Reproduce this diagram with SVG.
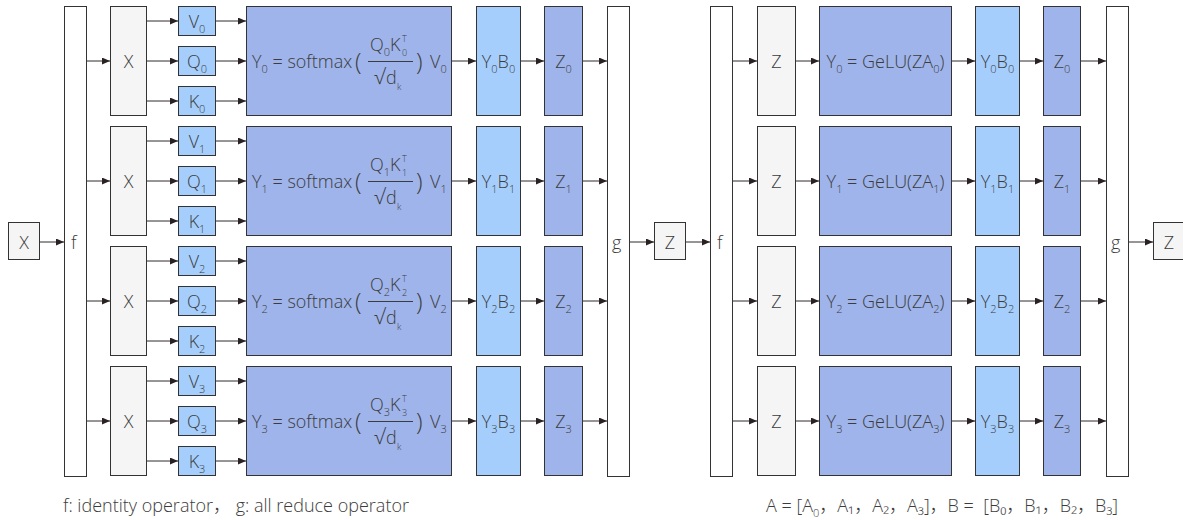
<svg xmlns="http://www.w3.org/2000/svg" width="1183" height="520" viewBox="0 0 1183 520">
  <defs>
    <marker id="arr" markerUnits="userSpaceOnUse" markerWidth="8" markerHeight="8" refX="8" refY="3.5" orient="auto">
      <path d="M0,0 L8,3.5 L0,7 z" fill="#2a2222"/>
    </marker>
    <style>
      .box { stroke: #333; stroke-width: 1; }
      .gray { fill: #f5f5f5; }
      .bar { fill: #fff; }
      .lblue { fill: #a6cefc; }
      .violet { fill: #9fb4ea; }
      text { font-family: "Open Sans", "Noto Sans", "Noto Sans CJK SC", sans-serif; font-weight: 300; font-size: 18px; fill: #3c3c3c; }
      .c { text-anchor: middle; }
      .sub { font-size: 11px; }
      .sup { font-size: 9px; }
      .paren { font-size: 24px; }
      .rad { font-size: 21px; }
      .cap { font-size: 18px; }
      .frac { stroke: #3c3c3c; stroke-width: 1; }
      #connectors line { stroke: #2e2a2a; stroke-width: 1; marker-end: url(#arr); }
    </style>
  </defs>

  <rect width="1183" height="520" fill="#fff"/>

  <!-- connectors -->
  <g id="connectors">
    <line x1="40" y1="242" x2="64" y2="242"/>
    <!-- f to X -->
    <line x1="86" y1="61" x2="110" y2="61"/>
    <line x1="86" y1="181" x2="110" y2="181"/>
    <line x1="86" y1="301" x2="110" y2="301"/>
    <line x1="86" y1="421" x2="110" y2="421"/>
    <!-- X to V/Q/K -->
    <line x1="147" y1="21" x2="178" y2="21"/>
    <line x1="147" y1="61" x2="178" y2="61"/>
    <line x1="147" y1="101" x2="178" y2="101"/>
    <line x1="147" y1="141" x2="178" y2="141"/>
    <line x1="147" y1="181" x2="178" y2="181"/>
    <line x1="147" y1="221" x2="178" y2="221"/>
    <line x1="147" y1="261" x2="178" y2="261"/>
    <line x1="147" y1="301" x2="178" y2="301"/>
    <line x1="147" y1="341" x2="178" y2="341"/>
    <line x1="147" y1="381" x2="178" y2="381"/>
    <line x1="147" y1="421" x2="178" y2="421"/>
    <line x1="147" y1="461" x2="178" y2="461"/>
    <!-- V/Q/K to attention -->
    <line x1="216" y1="21" x2="246" y2="21"/>
    <line x1="216" y1="61" x2="246" y2="61"/>
    <line x1="216" y1="101" x2="246" y2="101"/>
    <line x1="216" y1="141" x2="246" y2="141"/>
    <line x1="216" y1="181" x2="246" y2="181"/>
    <line x1="216" y1="221" x2="246" y2="221"/>
    <line x1="216" y1="261" x2="246" y2="261"/>
    <line x1="216" y1="301" x2="246" y2="301"/>
    <line x1="216" y1="341" x2="246" y2="341"/>
    <line x1="216" y1="381" x2="246" y2="381"/>
    <line x1="216" y1="421" x2="246" y2="421"/>
    <line x1="216" y1="461" x2="246" y2="461"/>
    <!-- attention to YB to Z to g -->
    <line x1="452" y1="61" x2="476" y2="61"/>
    <line x1="452" y1="181" x2="476" y2="181"/>
    <line x1="452" y1="301" x2="476" y2="301"/>
    <line x1="452" y1="421" x2="476" y2="421"/>
    <line x1="521" y1="61" x2="544" y2="61"/>
    <line x1="521" y1="181" x2="544" y2="181"/>
    <line x1="521" y1="301" x2="544" y2="301"/>
    <line x1="521" y1="421" x2="544" y2="421"/>
    <line x1="583" y1="61" x2="607" y2="61"/>
    <line x1="583" y1="181" x2="607" y2="181"/>
    <line x1="583" y1="301" x2="607" y2="301"/>
    <line x1="583" y1="421" x2="607" y2="421"/>
    <!-- g to Z to f -->
    <line x1="629" y1="242" x2="654" y2="242"/>
    <line x1="686" y1="242" x2="710" y2="242"/>
    <!-- MLP half -->
    <line x1="733" y1="61" x2="757" y2="61"/>
    <line x1="733" y1="181" x2="757" y2="181"/>
    <line x1="733" y1="301" x2="757" y2="301"/>
    <line x1="733" y1="421" x2="757" y2="421"/>
    <line x1="796" y1="61" x2="819" y2="61"/>
    <line x1="796" y1="181" x2="819" y2="181"/>
    <line x1="796" y1="301" x2="819" y2="301"/>
    <line x1="796" y1="421" x2="819" y2="421"/>
    <line x1="952" y1="61" x2="975" y2="61"/>
    <line x1="952" y1="181" x2="975" y2="181"/>
    <line x1="952" y1="301" x2="975" y2="301"/>
    <line x1="952" y1="421" x2="975" y2="421"/>
    <line x1="1020" y1="61" x2="1043" y2="61"/>
    <line x1="1020" y1="181" x2="1043" y2="181"/>
    <line x1="1020" y1="301" x2="1043" y2="301"/>
    <line x1="1020" y1="421" x2="1043" y2="421"/>
    <line x1="1081" y1="61" x2="1106" y2="61"/>
    <line x1="1081" y1="181" x2="1106" y2="181"/>
    <line x1="1081" y1="301" x2="1106" y2="301"/>
    <line x1="1081" y1="421" x2="1106" y2="421"/>
    <line x1="1128" y1="242" x2="1153" y2="242"/>
  </g>

  <!-- input -->
  <g id="input-x">
    <rect class="box gray" x="8.5" y="222.5" width="31" height="37"/>
    <text class="c" x="24" y="248.5">X</text>
  </g>

  <!-- identity / all-reduce bars -->
  <g id="f1"><rect class="box bar" x="64.5" y="6.5" width="22" height="470"/><text x="71" y="248.5">f</text></g>
  <g id="g1"><rect class="box bar" x="607.5" y="6.5" width="22" height="470"/><text x="612" y="248.5">g</text></g>
  <g id="z-mid">
    <rect class="box gray" x="654.5" y="222.5" width="31" height="37"/>
    <text class="c" x="670" y="248.5">Z</text>
  </g>
  <g id="f2"><rect class="box bar" x="710.5" y="6.5" width="22" height="470"/><text x="717" y="248.5">f</text></g>
  <g id="g2"><rect class="box bar" x="1106.5" y="6.5" width="22" height="470"/><text x="1111" y="248.5">g</text></g>
  <g id="z-out">
    <rect class="box gray" x="1153.5" y="222.5" width="33" height="37"/>
    <text class="c" x="1169" y="248.5">Z</text>
  </g>

  <!-- attention heads -->
  <g id="x0"><rect class="box gray" x="110.5" y="6.5" width="36" height="109"/><text class="c" x="128.5" y="67.5">X</text></g>
  <g id="x1"><rect class="box gray" x="110.5" y="126.5" width="36" height="109"/><text class="c" x="128.5" y="187.5">X</text></g>
  <g id="x2"><rect class="box gray" x="110.5" y="246.5" width="36" height="109"/><text class="c" x="128.5" y="307.5">X</text></g>
  <g id="x3"><rect class="box gray" x="110.5" y="366.5" width="36" height="109"/><text class="c" x="128.5" y="427.5">X</text></g>

  <g id="v0"><rect class="box lblue" x="178.5" y="6.5" width="37" height="29"/><text class="c" x="197" y="27.5">V<tspan class="sub" dy="5">0</tspan></text></g>
  <g id="q0"><rect class="box lblue" x="178.5" y="46.5" width="37" height="29"/><text class="c" x="197" y="67.5">Q<tspan class="sub" dy="5">0</tspan></text></g>
  <g id="k0"><rect class="box lblue" x="178.5" y="86.5" width="37" height="29"/><text class="c" x="197" y="107.5">K<tspan class="sub" dy="5">0</tspan></text></g>
  <g id="v1"><rect class="box lblue" x="178.5" y="126.5" width="37" height="29"/><text class="c" x="197" y="147.5">V<tspan class="sub" dy="5">1</tspan></text></g>
  <g id="q1"><rect class="box lblue" x="178.5" y="166.5" width="37" height="29"/><text class="c" x="197" y="187.5">Q<tspan class="sub" dy="5">1</tspan></text></g>
  <g id="k1"><rect class="box lblue" x="178.5" y="206.5" width="37" height="29"/><text class="c" x="197" y="227.5">K<tspan class="sub" dy="5">1</tspan></text></g>
  <g id="v2"><rect class="box lblue" x="178.5" y="246.5" width="37" height="29"/><text class="c" x="197" y="267.5">V<tspan class="sub" dy="5">2</tspan></text></g>
  <g id="q2"><rect class="box lblue" x="178.5" y="286.5" width="37" height="29"/><text class="c" x="197" y="307.5">Q<tspan class="sub" dy="5">2</tspan></text></g>
  <g id="k2"><rect class="box lblue" x="178.5" y="326.5" width="37" height="29"/><text class="c" x="197" y="347.5">K<tspan class="sub" dy="5">2</tspan></text></g>
  <g id="v3"><rect class="box lblue" x="178.5" y="366.5" width="37" height="29"/><text class="c" x="197" y="387.5">V<tspan class="sub" dy="5">3</tspan></text></g>
  <g id="q3"><rect class="box lblue" x="178.5" y="406.5" width="37" height="29"/><text class="c" x="197" y="427.5">Q<tspan class="sub" dy="5">3</tspan></text></g>
  <g id="k3"><rect class="box lblue" x="178.5" y="446.5" width="37" height="29"/><text class="c" x="197" y="467.5">K<tspan class="sub" dy="5">3</tspan></text></g>

  <!-- attention: Y_i = softmax(Q_i K_i^T / sqrt(d_k)) V_i -->
  <g id="attn0" transform="translate(0,0)">
    <rect class="box violet" x="246.5" y="6.5" width="205" height="109"/>
    <text x="252" y="67.5">Y<tspan class="sub" dy="5">0</tspan><tspan dy="-5"> = softmax</tspan></text>
    <text class="paren" x="355" y="70">(</text>
    <text x="370" y="51">Q<tspan class="sub" dy="5">0</tspan><tspan dy="-5">K</tspan></text>
    <text class="sup" x="402" y="42">T</text><text class="sup" x="402" y="56">0</text>
    <line class="frac" x1="368" y1="61.5" x2="413" y2="61.5"/>
    <text class="rad" x="374" y="84">√</text><text x="386" y="84">d</text><text class="sup" x="397" y="90">k</text>
    <text class="paren" x="416" y="70">)</text>
    <text x="430" y="67.5">V<tspan class="sub" dy="5">0</tspan></text>
  </g>
  <g id="attn1" transform="translate(0,120)">
    <rect class="box violet" x="246.5" y="6.5" width="205" height="109"/>
    <text x="252" y="67.5">Y<tspan class="sub" dy="5">1</tspan><tspan dy="-5"> = softmax</tspan></text>
    <text class="paren" x="355" y="70">(</text>
    <text x="370" y="51">Q<tspan class="sub" dy="5">1</tspan><tspan dy="-5">K</tspan></text>
    <text class="sup" x="402" y="42">T</text><text class="sup" x="402" y="56">1</text>
    <line class="frac" x1="368" y1="61.5" x2="413" y2="61.5"/>
    <text class="rad" x="374" y="84">√</text><text x="386" y="84">d</text><text class="sup" x="397" y="90">k</text>
    <text class="paren" x="416" y="70">)</text>
    <text x="430" y="67.5">V<tspan class="sub" dy="5">1</tspan></text>
  </g>
  <g id="attn2" transform="translate(0,240)">
    <rect class="box violet" x="246.5" y="6.5" width="205" height="109"/>
    <text x="252" y="67.5">Y<tspan class="sub" dy="5">2</tspan><tspan dy="-5"> = softmax</tspan></text>
    <text class="paren" x="355" y="70">(</text>
    <text x="370" y="51">Q<tspan class="sub" dy="5">2</tspan><tspan dy="-5">K</tspan></text>
    <text class="sup" x="402" y="42">T</text><text class="sup" x="402" y="56">2</text>
    <line class="frac" x1="368" y1="61.5" x2="413" y2="61.5"/>
    <text class="rad" x="374" y="84">√</text><text x="386" y="84">d</text><text class="sup" x="397" y="90">k</text>
    <text class="paren" x="416" y="70">)</text>
    <text x="430" y="67.5">V<tspan class="sub" dy="5">2</tspan></text>
  </g>
  <g id="attn3" transform="translate(0,360)">
    <rect class="box violet" x="246.5" y="6.5" width="205" height="109"/>
    <text x="252" y="67.5">Y<tspan class="sub" dy="5">3</tspan><tspan dy="-5"> = softmax</tspan></text>
    <text class="paren" x="355" y="70">(</text>
    <text x="370" y="51">Q<tspan class="sub" dy="5">3</tspan><tspan dy="-5">K</tspan></text>
    <text class="sup" x="402" y="42">T</text><text class="sup" x="402" y="56">3</text>
    <line class="frac" x1="368" y1="61.5" x2="413" y2="61.5"/>
    <text class="rad" x="374" y="84">√</text><text x="386" y="84">d</text><text class="sup" x="397" y="90">k</text>
    <text class="paren" x="416" y="70">)</text>
    <text x="430" y="67.5">V<tspan class="sub" dy="5">3</tspan></text>
  </g>

  <g id="yb0"><rect class="box lblue" x="476.5" y="6.5" width="44" height="109"/><text class="c" x="498.5" y="67.5">Y<tspan class="sub" dy="5">0</tspan><tspan dy="-5">B</tspan><tspan class="sub" dy="5">0</tspan></text></g>
  <g id="yb1"><rect class="box lblue" x="476.5" y="126.5" width="44" height="109"/><text class="c" x="498.5" y="187.5">Y<tspan class="sub" dy="5">1</tspan><tspan dy="-5">B</tspan><tspan class="sub" dy="5">1</tspan></text></g>
  <g id="yb2"><rect class="box lblue" x="476.5" y="246.5" width="44" height="109"/><text class="c" x="498.5" y="307.5">Y<tspan class="sub" dy="5">2</tspan><tspan dy="-5">B</tspan><tspan class="sub" dy="5">2</tspan></text></g>
  <g id="yb3"><rect class="box lblue" x="476.5" y="366.5" width="44" height="109"/><text class="c" x="498.5" y="427.5">Y<tspan class="sub" dy="5">3</tspan><tspan dy="-5">B</tspan><tspan class="sub" dy="5">3</tspan></text></g>

  <g id="z0"><rect class="box violet" x="544.5" y="6.5" width="38" height="109"/><text class="c" x="563.5" y="67.5">Z<tspan class="sub" dy="5">0</tspan></text></g>
  <g id="z1"><rect class="box violet" x="544.5" y="126.5" width="38" height="109"/><text class="c" x="563.5" y="187.5">Z<tspan class="sub" dy="5">1</tspan></text></g>
  <g id="z2"><rect class="box violet" x="544.5" y="246.5" width="38" height="109"/><text class="c" x="563.5" y="307.5">Z<tspan class="sub" dy="5">2</tspan></text></g>
  <g id="z3"><rect class="box violet" x="544.5" y="366.5" width="38" height="109"/><text class="c" x="563.5" y="427.5">Z<tspan class="sub" dy="5">3</tspan></text></g>

  <!-- MLP shards -->
  <g id="zin0"><rect class="box gray" x="757.5" y="6.5" width="38" height="109"/><text class="c" x="776.5" y="67.5">Z</text></g>
  <g id="zin1"><rect class="box gray" x="757.5" y="126.5" width="38" height="109"/><text class="c" x="776.5" y="187.5">Z</text></g>
  <g id="zin2"><rect class="box gray" x="757.5" y="246.5" width="38" height="109"/><text class="c" x="776.5" y="307.5">Z</text></g>
  <g id="zin3"><rect class="box gray" x="757.5" y="366.5" width="38" height="109"/><text class="c" x="776.5" y="427.5">Z</text></g>

  <g id="gelu0"><rect class="box violet" x="819.5" y="6.5" width="132" height="109"/><text class="c" x="885.5" y="67.5">Y<tspan class="sub" dy="5">0</tspan><tspan dy="-5"> = GeLU(ZA</tspan><tspan class="sub" dy="5">0</tspan><tspan dy="-5">)</tspan></text></g>
  <g id="gelu1"><rect class="box violet" x="819.5" y="126.5" width="132" height="109"/><text class="c" x="885.5" y="187.5">Y<tspan class="sub" dy="5">1</tspan><tspan dy="-5"> = GeLU(ZA</tspan><tspan class="sub" dy="5">1</tspan><tspan dy="-5">)</tspan></text></g>
  <g id="gelu2"><rect class="box violet" x="819.5" y="246.5" width="132" height="109"/><text class="c" x="885.5" y="307.5">Y<tspan class="sub" dy="5">2</tspan><tspan dy="-5"> = GeLU(ZA</tspan><tspan class="sub" dy="5">2</tspan><tspan dy="-5">)</tspan></text></g>
  <g id="gelu3"><rect class="box violet" x="819.5" y="366.5" width="132" height="109"/><text class="c" x="885.5" y="427.5">Y<tspan class="sub" dy="5">3</tspan><tspan dy="-5"> = GeLU(ZA</tspan><tspan class="sub" dy="5">3</tspan><tspan dy="-5">)</tspan></text></g>

  <g id="yb4"><rect class="box lblue" x="975.5" y="6.5" width="44" height="109"/><text class="c" x="997.5" y="67.5">Y<tspan class="sub" dy="5">0</tspan><tspan dy="-5">B</tspan><tspan class="sub" dy="5">0</tspan></text></g>
  <g id="yb5"><rect class="box lblue" x="975.5" y="126.5" width="44" height="109"/><text class="c" x="997.5" y="187.5">Y<tspan class="sub" dy="5">1</tspan><tspan dy="-5">B</tspan><tspan class="sub" dy="5">1</tspan></text></g>
  <g id="yb6"><rect class="box lblue" x="975.5" y="246.5" width="44" height="109"/><text class="c" x="997.5" y="307.5">Y<tspan class="sub" dy="5">2</tspan><tspan dy="-5">B</tspan><tspan class="sub" dy="5">2</tspan></text></g>
  <g id="yb7"><rect class="box lblue" x="975.5" y="366.5" width="44" height="109"/><text class="c" x="997.5" y="427.5">Y<tspan class="sub" dy="5">3</tspan><tspan dy="-5">B</tspan><tspan class="sub" dy="5">3</tspan></text></g>

  <g id="z4"><rect class="box violet" x="1043.5" y="6.5" width="37" height="109"/><text class="c" x="1062" y="67.5">Z<tspan class="sub" dy="5">0</tspan></text></g>
  <g id="z5"><rect class="box violet" x="1043.5" y="126.5" width="37" height="109"/><text class="c" x="1062" y="187.5">Z<tspan class="sub" dy="5">1</tspan></text></g>
  <g id="z6"><rect class="box violet" x="1043.5" y="246.5" width="37" height="109"/><text class="c" x="1062" y="307.5">Z<tspan class="sub" dy="5">2</tspan></text></g>
  <g id="z7"><rect class="box violet" x="1043.5" y="366.5" width="37" height="109"/><text class="c" x="1062" y="427.5">Z<tspan class="sub" dy="5">3</tspan></text></g>

  <!-- captions -->
  <g id="captions">
    <text class="cap" x="63" y="512">f: identity operator，&#160;g: all reduce operator</text>
    <text class="cap" x="766" y="512">A = [A<tspan class="sub" dy="5">0</tspan><tspan dy="-5">，A₁，A₂，A₃]，B =&#160;&#160;[B₀，B₁，B₂，B₃]</tspan></text>
  </g>
</svg>
